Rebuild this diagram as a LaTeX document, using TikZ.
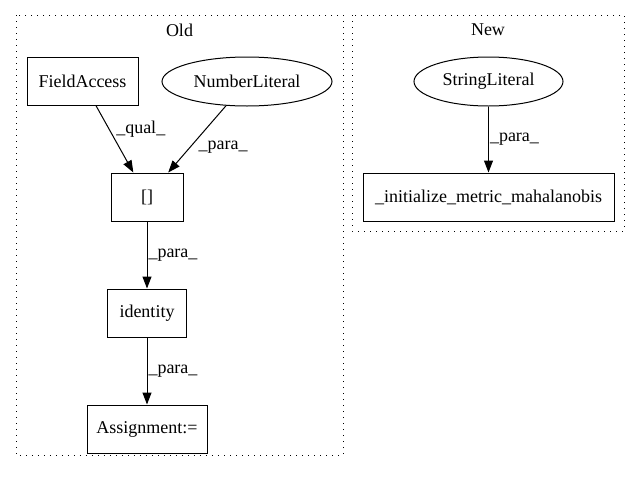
\documentclass[tikz,border=0pt]{standalone}
\usepackage{fontspec}
\setmainfont{Liberation Serif}
\usetikzlibrary{positioning,shapes.geometric,arrows.meta}

\begin{document}
\begin{tikzpicture}[x=1pt,y=-1pt,>={Triangle[length=12pt,width=9pt]},
    node distance=116pt,on grid,auto,
    every node/.style={font=\fontsize{18}{21}\selectfont},
    box/.style={draw,line width=1pt,rectangle,minimum height=48pt,inner sep=0pt},
    oval/.style={draw,line width=1pt,ellipse,minimum height=49pt,inner sep=0pt},
    cluster/.style={line width=1pt,dash pattern=on 1.2pt off 4.8pt},
    lbl/.style={inner sep=1pt}]
\useasboundingbox (0,0) rectangle (641,480);
% Here are the two dotted clusters with their titles
\draw[cluster] (16,15) rectangle (343,455);
\draw[cluster] (352,15) rectangle (624,231);
\node (old) at (179.5,30) {Old};
\node (new) at (488,30) {New};
% Here are the states of the old version
   \node[box,minimum width=111pt] (fa) at (82.5,81.5) {FieldAccess};
   \node[oval,minimum width=170pt] (nl) at (247,81.5) {NumberLiteral};
   \node[box,minimum width=72pt] (br) at (147,197) {[]};
   \node[box,minimum width=79pt] (id) [below=of br] {identity};
   \node[box,minimum width=120pt] (as) [below=of id] {Assignment:=};
% Here are the states of the new version
   \node[oval,minimum width=149pt] (sl) at (488.5,81.5) {StringLiteral};
   \node[box,minimum width=251pt] (init) [below=115.5pt of sl] {\_initialize\_metric\_mahalanobis};
% Here are the paths between them
    \path[->,line width=1pt]
    (fa) edge node[lbl] {\_qual\_} (br)
    (nl) edge node[lbl] {\_para\_} (br)
    (br) edge node[lbl] {\_para\_} (id)
    (id) edge node[lbl] {\_para\_} (as)
    (sl) edge node[lbl] {\_para\_} (init);
\end{tikzpicture}
\end{document}
